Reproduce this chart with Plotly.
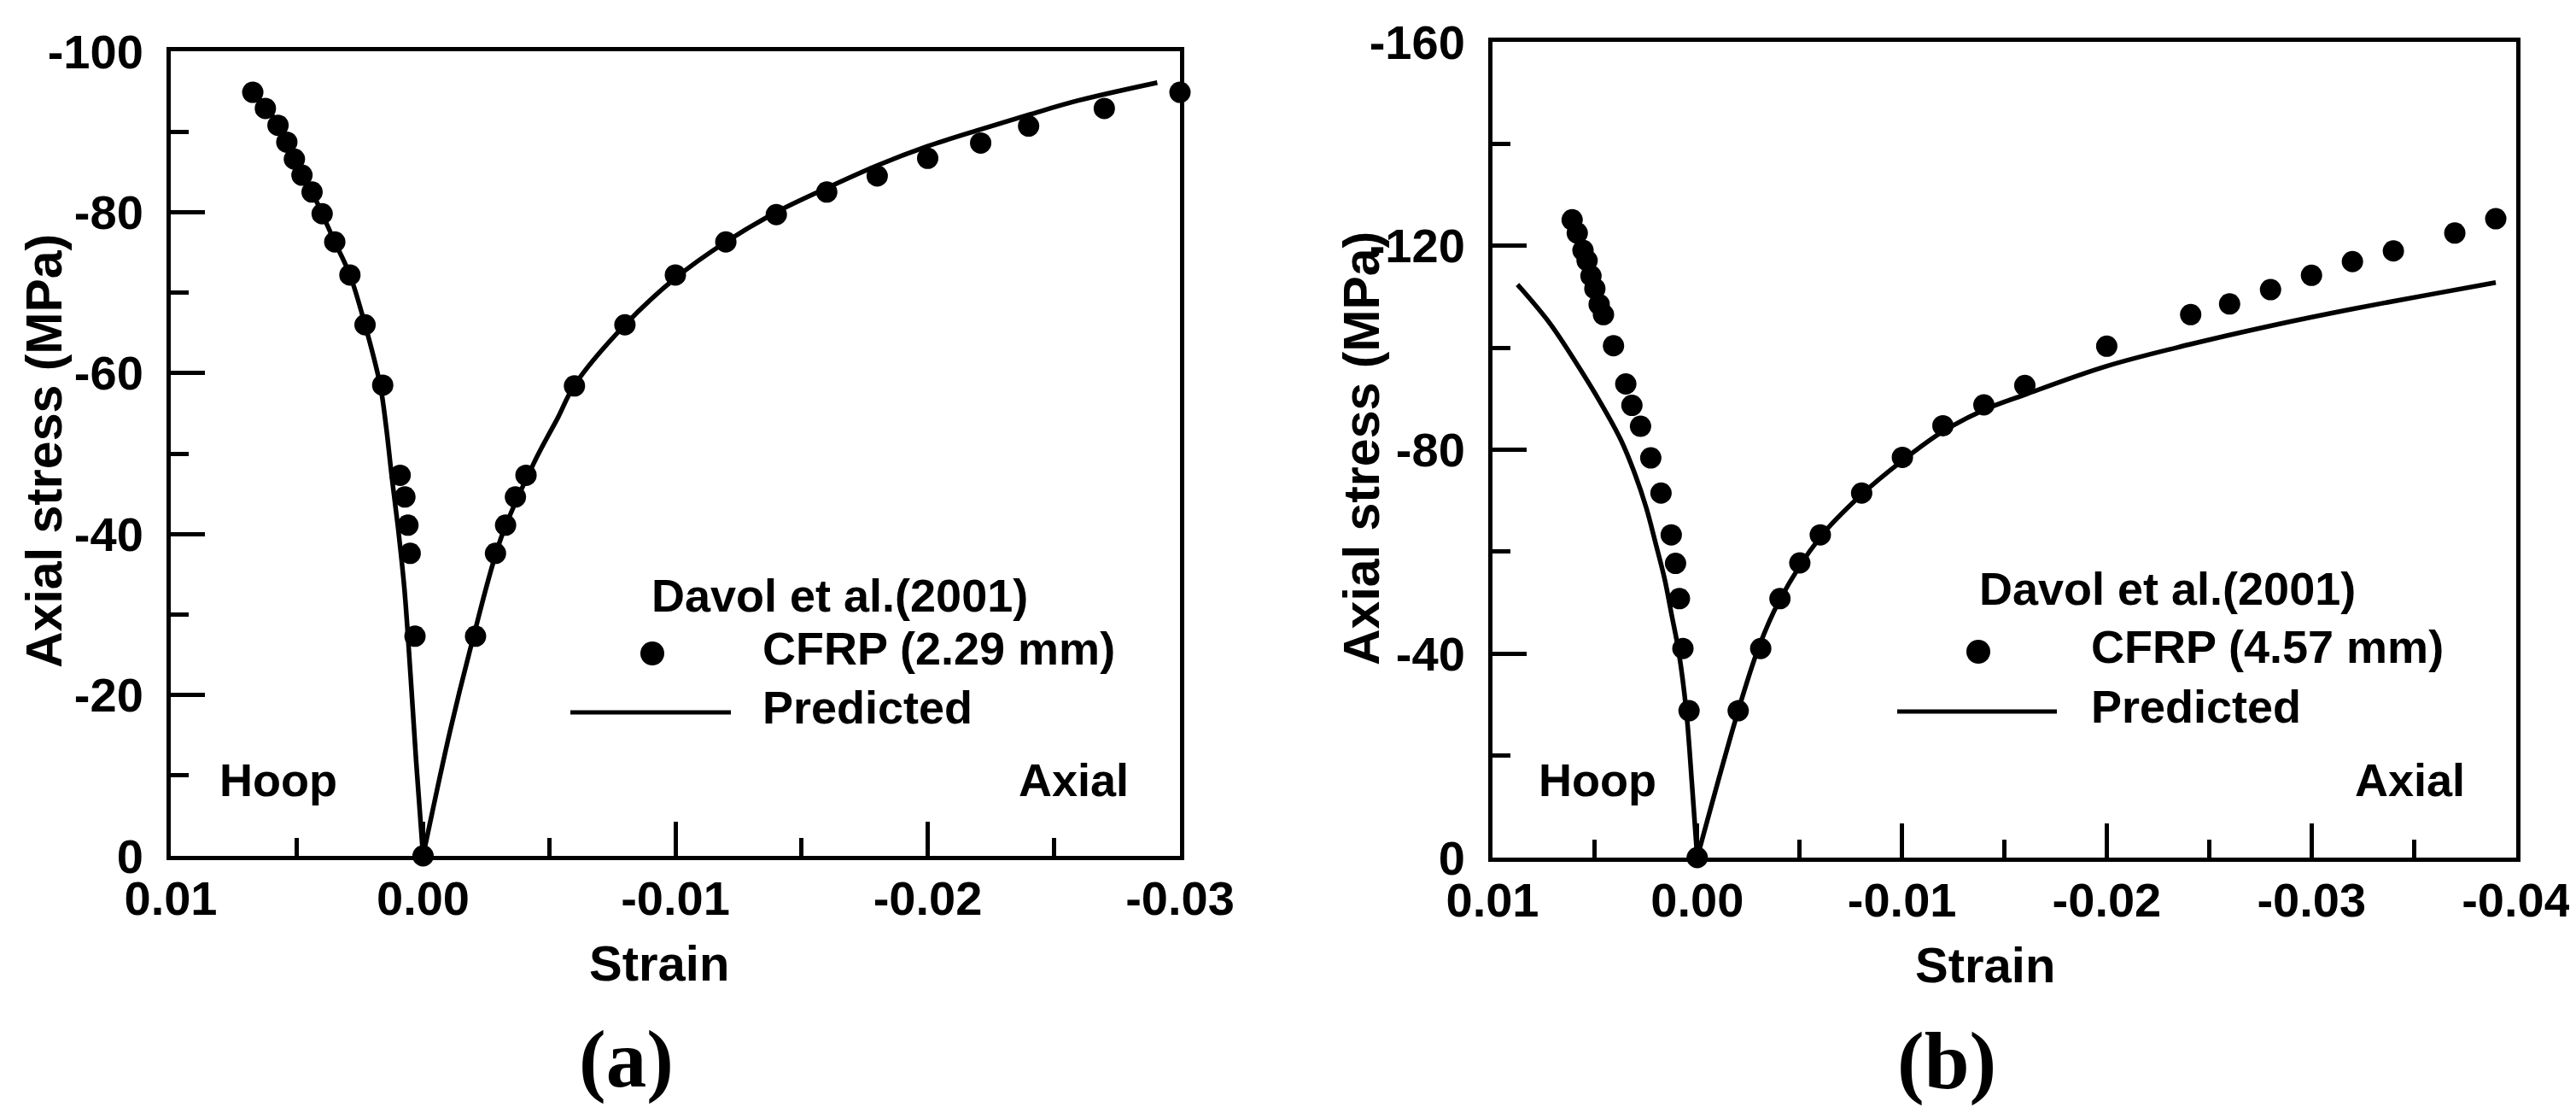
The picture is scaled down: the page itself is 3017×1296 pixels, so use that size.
import plotly.graph_objects as go

# ---- data (strain, axial stress in MPa) ----
# (a) CFRP 2.29 mm
hoop_strain_a = [0.00675, 0.00625, 0.00575, 0.0054, 0.0051, 0.0048, 0.0044, 0.0040,
                 0.0035, 0.0029, 0.0023, 0.0016, 0.00091, 0.00072, 0.0006, 0.00051, 0.00032, 0.0]
hoop_stress_a = [-94.9, -92.9, -90.8, -88.7, -86.6, -84.6, -82.5, -79.8,
                 -76.3, -72.2, -66.0, -58.5, -47.3, -44.6, -41.1, -37.6, -27.3, 0.0]
axial_strain_a = [-0.00208, -0.00287, -0.00327, -0.00366, -0.00408, -0.0060, -0.0080, -0.0100,
                  -0.0120, -0.0140, -0.0160, -0.0180, -0.0200, -0.0221, -0.0240, -0.0270, -0.0300]
axial_stress_a = [-27.3, -37.6, -41.1, -44.6, -47.3, -58.4, -66.0, -72.2,
                  -76.3, -79.7, -82.5, -84.5, -86.7, -88.6, -90.7, -92.9, -94.9]
pred_hoop_strain_a = [0.0068, 0.0062, 0.0057, 0.0051, 0.0044, 0.0040, 0.0035, 0.0029, 0.0023,
                      0.0017, 0.00147, 0.00125, 0.0010, 0.00074, 0.0005, 0.00028, 0.0]
pred_hoop_stress_a = [-95.3, -92.9, -90.8, -86.6, -82.5, -79.8, -76.3, -72.2, -66.0,
                      -58.5, -53.5, -47.4, -41.0, -33.2, -22.6, -12.0, 0.0]
pred_axial_strain_a = [0.0, -0.00107, -0.00197, -0.0031, -0.00445, -0.00535, -0.006, -0.008,
                       -0.010, -0.012, -0.014, -0.016, -0.018, -0.020, -0.022, -0.024, -0.026,
                       -0.0291]
pred_axial_stress_a = [0.0, -15.5, -26.9, -39.6, -49.2, -54.5, -58.5, -66.0,
                       -71.8, -76.3, -80.0, -83.0, -85.8, -88.2, -90.2, -92.1, -93.9,
                       -96.1]

# (b) CFRP 4.57 mm
hoop_strain_b = [0.00611, 0.00586, 0.00558, 0.00538, 0.00519, 0.0050, 0.00479, 0.00458, 0.00409,
                 0.00349, 0.00319, 0.00277, 0.00227, 0.00177, 0.00127, 0.00106, 0.00087, 0.0007,
                 0.0004, 0.0]
hoop_stress_b = [-125.1, -122.5, -119.1, -117.1, -114.1, -111.6, -108.5, -106.5, -100.4,
                 -92.9, -88.7, -84.6, -78.4, -71.5, -63.3, -57.7, -50.8, -41.0,
                 -28.8, 0.0]
axial_strain_b = [-0.0020, -0.0031, -0.00404, -0.00501, -0.00601, -0.00803, -0.01002, -0.0120,
                  -0.0140, -0.0160, -0.0200, -0.0241, -0.0260, -0.0280, -0.0300, -0.0320,
                  -0.0340, -0.0370, -0.0390]
axial_stress_b = [-28.8, -41.0, -50.8, -57.8, -63.3, -71.5, -78.5, -84.7,
                  -88.8, -92.6, -100.3, -106.5, -108.6, -111.4, -114.2, -116.9,
                  -119.0, -122.5, -125.3]
pred_hoop_strain_b = [0.00878, 0.00722, 0.00583, 0.00472, 0.00374, 0.00305, 0.00249, 0.00201,
                      0.00159, 0.00124, 0.00091, 0.00054, 0.00025, 0.0]
pred_hoop_stress_b = [-112.4, -104.9, -96.5, -89.2, -82.0, -75.3, -68.6, -61.3,
                      -54.6, -47.4, -40.5, -29.0, -14.0, 0.0]
pred_axial_strain_b = [0.0, -0.002, -0.003, -0.004, -0.006, -0.008, -0.010, -0.012, -0.014,
                       -0.016, -0.020, -0.024, -0.028, -0.032, -0.036, -0.039]
pred_axial_stress_b = [0.0, -28.8, -41.2, -50.3, -62.8, -71.1, -77.8, -83.6, -87.8,
                       -90.8, -96.4, -100.6, -104.3, -107.6, -110.6, -112.8]

# tick labels
x_ticks_a = [0.01, 0.0, -0.01, -0.02, -0.03]
x_ticktext_a = ["0.01", "0.00", "-0.01", "-0.02", "-0.03"]
x_minor_a = [0.005, -0.005, -0.015, -0.025]
y_ticks_a = [0, -20, -40, -60, -80, -100]
y_ticktext_a = ["0", "-20", "-40", "-60", "-80", "-100"]
y_minor_a = [-10, -30, -50, -70, -90]

x_ticks_b = [0.01, 0.0, -0.01, -0.02, -0.03, -0.04]
x_ticktext_b = ["0.01", "0.00", "-0.01", "-0.02", "-0.03", "-0.04"]
x_minor_b = [0.005, -0.005, -0.015, -0.025, -0.035]
y_ticks_b = [0, -40, -80, -120, -160]
y_ticktext_b = ["0", "-40", "-80", "-120", "-160"]
y_minor_b = [-20, -60, -100, -140]

W, H = 3017, 1296
SANS = "Liberation Sans, Arial, sans-serif"
SERIF = "Liberation Serif, Times New Roman, serif"


def px(x):
    return x / W


def py(y):
    return 1 - y / H


fig = go.Figure()

panels = [
    ("x", "y", hoop_strain_a, hoop_stress_a, axial_strain_a, axial_stress_a,
     pred_hoop_strain_a, pred_hoop_stress_a, pred_axial_strain_a, pred_axial_stress_a),
    ("x2", "y2", hoop_strain_b, hoop_stress_b, axial_strain_b, axial_stress_b,
     pred_hoop_strain_b, pred_hoop_stress_b, pred_axial_strain_b, pred_axial_stress_b),
]
for xa, ya, hs, hst, as_, ast, phs, phst, pas, past in panels:
    for sx, sy in [(phs, phst), (pas, past)]:
        fig.add_trace(go.Scatter(x=sx, y=sy, xaxis=xa, yaxis=ya, mode="lines",
                                 line=dict(color="black", width=5.5, shape="spline", smoothing=1.0),
                                 cliponaxis=False, showlegend=False))
    fig.add_trace(go.Scatter(x=hs + as_, y=hst + ast, xaxis=xa, yaxis=ya, mode="markers",
                             marker=dict(color="black", size=25), cliponaxis=False,
                             showlegend=False))

tick_font = dict(family=SANS, size=56, color="black", weight="bold")


def axis_style(tickvals, ticktext, minor_vals, rng, domain, standoff):
    return dict(range=rng, domain=domain, tickmode="array", tickvals=tickvals,
                ticktext=ticktext, ticks="inside", ticklen=40, tickwidth=4.5,
                tickcolor="black", tickfont=tick_font, ticklabelstandoff=standoff,
                minor=dict(tickmode="array", tickvals=minor_vals, ticks="inside",
                           ticklen=21, tickwidth=4.5, tickcolor="black"),
                showline=True, linewidth=5, linecolor="black", mirror=True,
                showgrid=False, zeroline=False, automargin=False)


fig.update_layout(
    template="none",
    width=W, height=H, margin=dict(l=0, r=0, t=0, b=0, pad=0, autoexpand=False),
    paper_bgcolor="white", plot_bgcolor="white",
    font=dict(family=SANS, color="black", weight="bold"),
    xaxis=axis_style(x_ticks_a, x_ticktext_a, x_minor_a, [0.01, -0.03],
                     [px(192), px(1374)], -3),
    yaxis=axis_style(y_ticks_a, y_ticktext_a, y_minor_a, [0, -100],
                     [py(994), py(52)], 16),
    xaxis2=dict(anchor="y2", **axis_style(x_ticks_b, x_ticktext_b, x_minor_b, [0.01, -0.04],
                                          [px(1740), px(2939)], -3)),
    yaxis2=dict(anchor="x2", **axis_style(y_ticks_b, y_ticktext_b, y_minor_b, [0, -160],
                                          [py(996), py(41)], 16)),
)

# texts: axis titles, panel letters, region labels, legend
texts = [
    ("Axial stress (MPa)", 44, 520, 59, SANS, -90, "center"),
    ("Axial stress (MPa)", 1587, 517, 59, SANS, -90, "center"),
    ("Strain", 764, 1119, 58, SANS, 0, "center"),
    ("Strain", 2317, 1121, 58, SANS, 0, "center"),
    ("(a)", 725, 1232, 95, SERIF, 0, "center"),
    ("(b)", 2272, 1234, 95, SERIF, 0, "center"),
    ("Hoop", 247, 905, 54, SANS, 0, "left"),
    ("Axial", 1183, 905, 54, SANS, 0, "left"),
    ("Hoop", 1792, 905, 54, SANS, 0, "left"),
    ("Axial", 2748, 905, 54, SANS, 0, "left"),
    ("Davol et al.(2001)", 753, 689, 54, SANS, 0, "left"),
    ("CFRP (2.29 mm)", 883, 751, 54, SANS, 0, "left"),
    ("Predicted", 883, 820, 54, SANS, 0, "left"),
    ("Davol et al.(2001)", 2308, 681, 54, SANS, 0, "left"),
    ("CFRP (4.57 mm)", 2439, 749, 54, SANS, 0, "left"),
    ("Predicted", 2439, 819, 54, SANS, 0, "left"),
]
for text, x, y, size, family, angle, anchor in texts:
    fig.add_annotation(text=text, x=px(x), y=py(y), xref="paper", yref="paper",
                       xanchor=anchor, yanchor="middle", textangle=angle, showarrow=False,
                       font=dict(family=family, size=size, color="black", weight="bold"))

# legend symbols
for cx, cy, lx0, lx1, ly in [(756, 757, 660, 848, 826), (2309, 755, 2214, 2401, 825)]:
    fig.add_shape(type="circle", xref="paper", yref="paper",
                  x0=px(cx - 14), x1=px(cx + 14), y0=py(cy + 14), y1=py(cy - 14),
                  fillcolor="black", line=dict(color="black", width=0))
    fig.add_shape(type="line", xref="paper", yref="paper",
                  x0=px(lx0), x1=px(lx1), y0=py(ly), y1=py(ly),
                  line=dict(color="black", width=5))

fig.write_html("out.html")
